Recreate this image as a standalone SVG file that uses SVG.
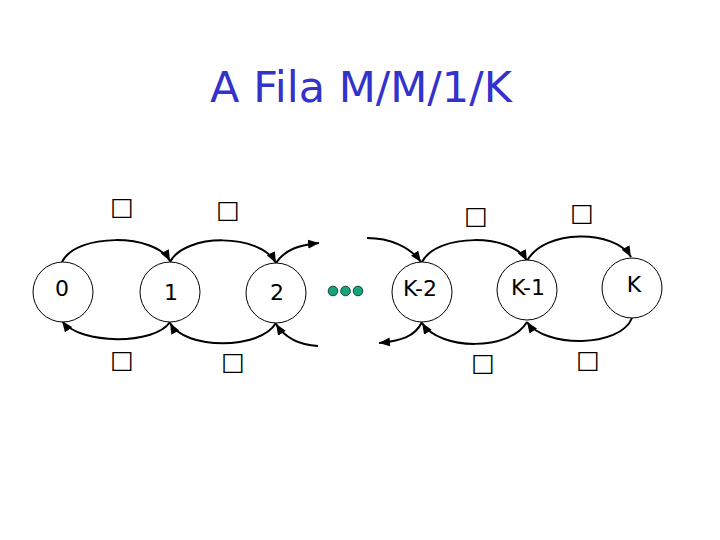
<svg xmlns="http://www.w3.org/2000/svg" width="720" height="540" viewBox="0 0 720 540">
<defs>
<marker id="ah" markerUnits="userSpaceOnUse" markerWidth="12" markerHeight="10" refX="11" refY="5" orient="auto">
<path d="M0,0.5 L11,5 L0,9.5 z" fill="#000"/>
</marker>
<style>
.n{fill:#fff;stroke:#000;stroke-width:1}
.t{font-family:"DejaVu Sans",sans-serif;font-size:22px;text-anchor:middle;fill:#000}
.e{fill:none;stroke:#000;stroke-width:2;marker-end:url(#ah)}
.s{font-family:"DejaVu Sans",sans-serif;font-size:25px;font-weight:bold;text-anchor:middle;fill:#000}
.d{fill:#1aa37a;stroke:#0b4a3a;stroke-width:1}
</style>
</defs>
<rect width="720" height="540" fill="#fff"/>
<text x="361" y="102" font-family="DejaVu Sans, sans-serif" font-size="43" fill="#3333cc" text-anchor="middle">A Fila M/M/1/K</text>
<g id="connectors">
<path class="e" d="M62,262 C76,233 155,233 170,261"/>
<path class="e" d="M170,262 C185,233 260,233 276,263"/>
<path class="e" d="M276,263 C285,249 300,245 319,243"/>
<path class="e" d="M367,238 C390,238 410,247 421,262"/>
<path class="e" d="M422,262 C437,233 512,233 527,261"/>
<path class="e" d="M527,261 C544,229 615,229 631,257"/>
<path class="e" d="M170,322 C155,345 80,345 62,321"/>
<path class="e" d="M276,323 C260,350 185,350 170,323"/>
<path class="e" d="M318,346 C300,345 285,338 276,324"/>
<path class="e" d="M422,322 C415,337 400,341 379,343"/>
<path class="e" d="M527,322 C510,351 440,351 422,323"/>
<path class="e" d="M632,318 C620,348 545,348 527,322"/>
</g>
<g id="rates">
<text class="s" x="122" y="215">□</text>
<text class="s" x="228" y="218">□</text>
<text class="s" x="476" y="224">□</text>
<text class="s" x="582" y="221">□</text>
<text class="s" x="122" y="368">□</text>
<text class="s" x="233" y="370">□</text>
<text class="s" x="483" y="371">□</text>
<text class="s" x="588" y="368">□</text>
</g>
<g id="node-0"><circle class="n" cx="63" cy="292" r="30"/><text class="t" x="62" y="296">0</text></g>
<g id="node-1"><circle class="n" cx="170" cy="292" r="30"/><text class="t" x="171" y="300">1</text></g>
<g id="node-2"><circle class="n" cx="276" cy="293" r="30"/><text class="t" x="277" y="300">2</text></g>
<g id="ellipsis"><circle class="d" cx="333" cy="291" r="4.8"/><circle class="d" cx="345.5" cy="291" r="4.8"/><circle class="d" cx="358" cy="291" r="4.8"/></g>
<g id="node-K-2"><circle class="n" cx="422" cy="292" r="30"/><text class="t" x="420" y="296">K-2</text></g>
<g id="node-K-1"><circle class="n" cx="527" cy="290" r="30"/><text class="t" x="528" y="295">K-1</text></g>
<g id="node-K"><circle class="n" cx="632" cy="288" r="30"/><text class="t" x="634" y="292">K</text></g>
</svg>
